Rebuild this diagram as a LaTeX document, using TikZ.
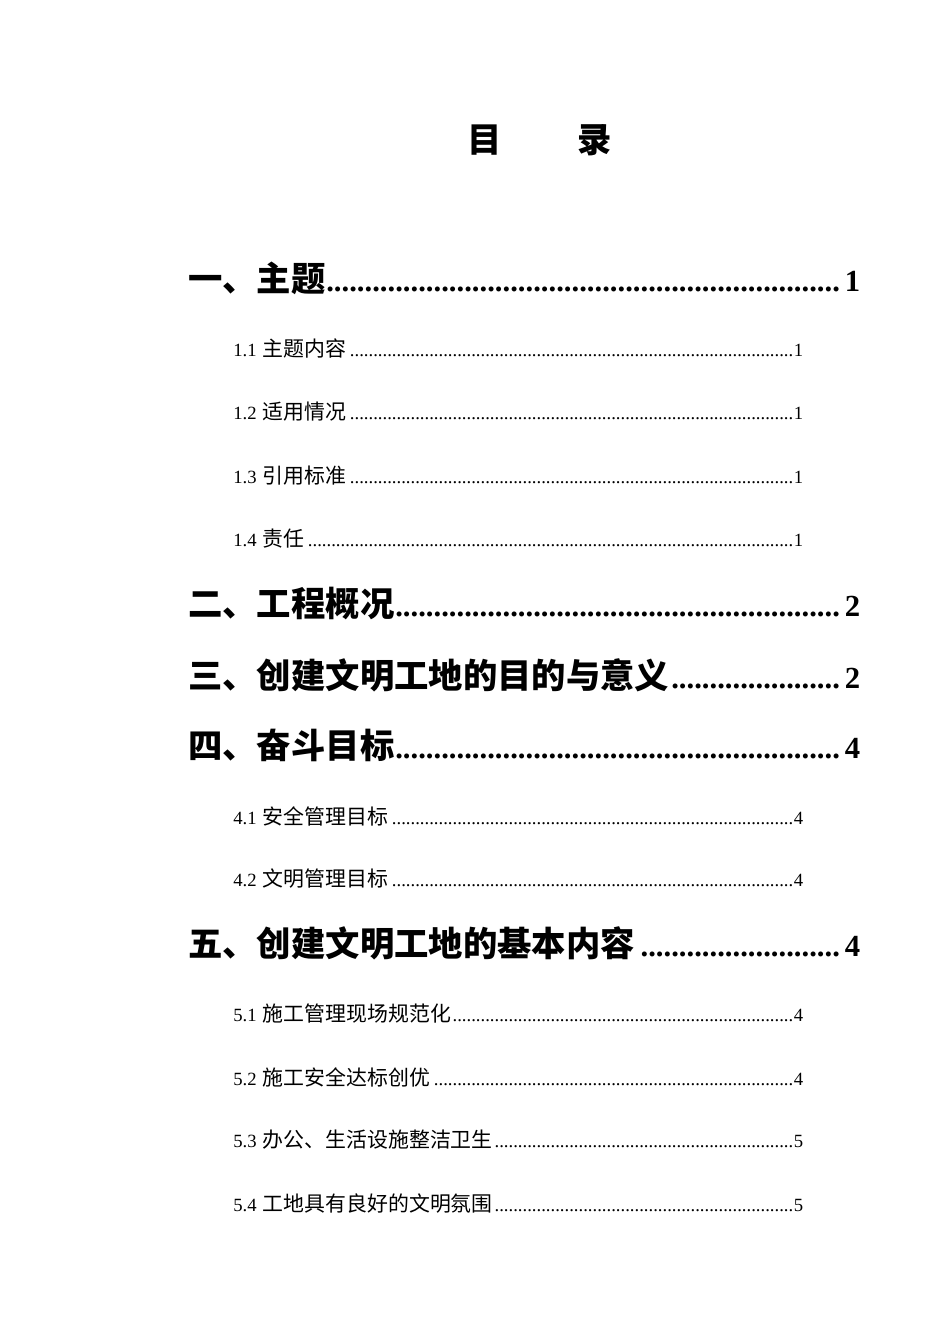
\documentclass[tikz,border=0pt]{standalone}
\usepackage{fontspec}
\setmainfont{Liberation Serif}
\newfontfamily\cjk[Scale=1.12]{Noto Sans CJK SC}
\newcommand{\dts}{\leaders\hbox{.}\hfill}
\newcommand{\tochd}[3]{\node[anchor=west,inner sep=0pt,text width=504pt,font=\fontsize{23pt}{26pt}\selectfont\bfseries] (#1) at (188,#2) {#3};}
\newcommand{\tocsb}[3]{\node[anchor=west,inner sep=0pt,text width=427.5pt,font=\fontsize{14pt}{17pt}\selectfont] (#1) at (233,#2) {#3};}
\begin{document}
\begin{tikzpicture}[x=0.75pt,y=-0.75pt]
\useasboundingbox (0,0) rectangle (950,1344);
\node[font=\fontsize{23pt}{28pt}\selectfont\bfseries\cjk] (title) at (540,140) {目\hspace{2.2em}录};
\tochd{h1}{278}{{\cjk 一、主题}\dts 1}
\tocsb{s11}{349}{1.1 {\cjk 主题内容}\dts 1}
\tocsb{s12}{412}{1.2 {\cjk 适用情况}\dts 1}
\tocsb{s13}{476}{1.3 {\cjk 引用标准}\dts 1}
\tocsb{s14}{539}{1.4 {\cjk 责任}\dts 1}
\tochd{h2}{604}{{\cjk 二、工程概况}\dts 2}
\tochd{h3}{675}{{\cjk 三、创建文明工地的目的与意义}\dts 2}
\tochd{h4}{745}{{\cjk 四、奋斗目标}\dts 4}
\tocsb{s41}{816}{4.1 {\cjk 安全管理目标}\dts 4}
\tocsb{s42}{879}{4.2 {\cjk 文明管理目标}\dts 4}
\tochd{h5}{943}{{\cjk 五、创建文明工地的基本内容}\dts 4}
\tocsb{s51}{1014}{5.1 {\cjk 施工管理现场规范化}\dts 4}
\tocsb{s52}{1077}{5.2 {\cjk 施工安全达标创优}\dts 4}
\tocsb{s53}{1140}{5.3 {\cjk 办公、生活设施整洁卫生}\dts 5}
\tocsb{s54}{1204}{5.4 {\cjk 工地具有良好的文明氛围}\dts 5}
\end{tikzpicture}
\end{document}
